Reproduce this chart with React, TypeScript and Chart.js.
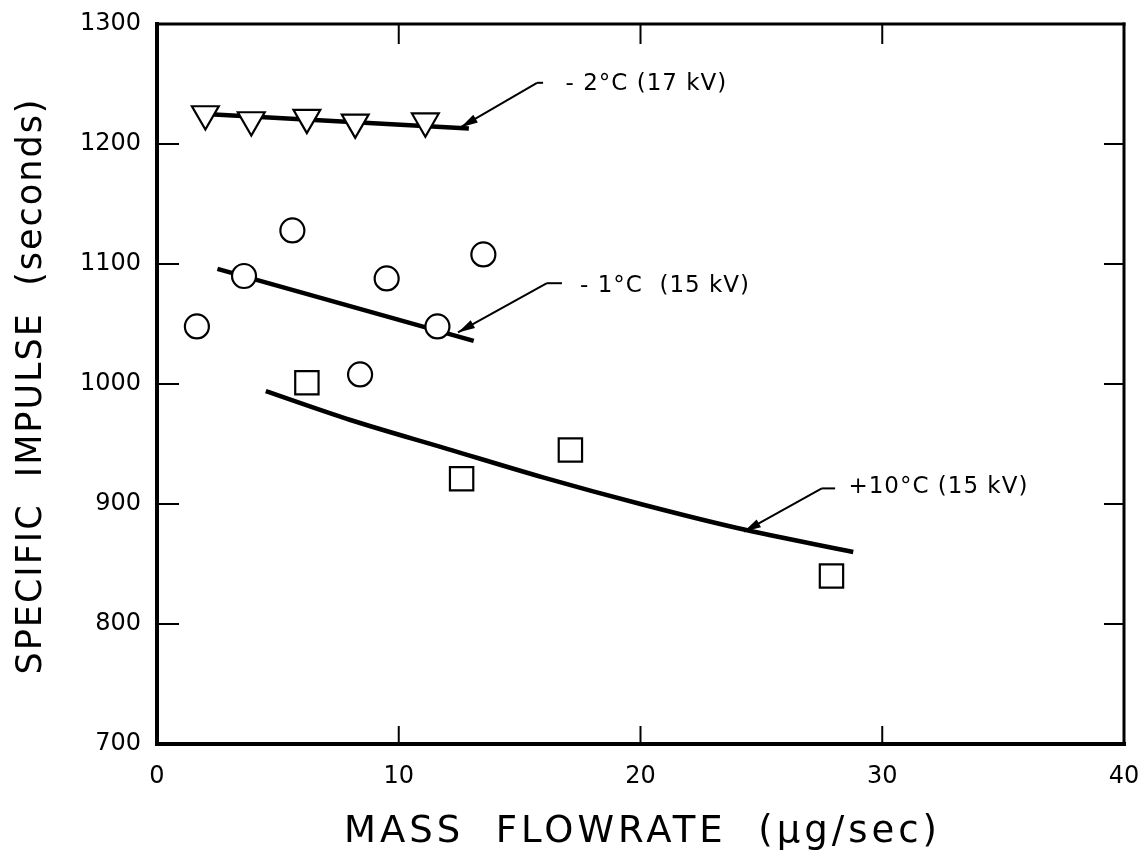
import { useEffect, useRef } from "react";
import { Chart, registerables } from "chart.js";

Chart.register(...registerables);

const FONT = "'DejaVu Sans', 'Noto Sans', sans-serif";

// axis ticks
const xTickValues = [0, 10, 20, 30, 40];
const xTickLabels = ["0", "10", "20", "30", "40"];
const yTickValues = [700, 800, 900, 1000, 1100, 1200, 1300];
const yTickLabels = ["700", "800", "900", "1000", "1100", "1200", "1300"];

// -2°C (17 kV) : triangles + fit
const triX = [2.0, 3.9, 6.2, 8.2, 11.1];
const triY = [1225, 1220, 1222, 1218, 1219];
const fitAX = [2.0, 12.9];
const fitAY = [1225, 1213];

// -1°C (15 kV) : circles + fit
const circX = [1.65, 3.6, 5.6, 8.4, 9.5, 11.6, 13.5];
const circY = [1048, 1090, 1128, 1008, 1088, 1048, 1108];
const fitBX = [2.5, 13.1];
const fitBY = [1096, 1036];

// +10°C (15 kV) : squares + fitted curve
const sqX = [6.2, 12.6, 17.1, 27.9];
const sqY = [1001, 921, 945, 840];
const fitCX = [4.5, 8, 12, 16, 20, 24, 28.8];
const fitCY = [994, 970, 946, 922, 900, 880, 860];

// annotation labels with leader arrows (data units)
const noteText = ["- 2°C (17 kV)", "- 1°C  (15 kV)", "+10°C (15 kV)"];
const noteX = [16.9, 17.5, 28.6];
const noteY = [1250, 1082, 914];
const arrowTailX = [15.97, 16.75, 28.05];
const arrowJointX = [15.72, 16.13, 27.5];
const arrowTailY = [1251, 1084, 913];
const arrowTipX = [12.57, 12.45, 24.28];
const arrowTipY = [1214, 1043, 877];

const xTitle = "MASS  FLOWRATE  (μg/sec)";
const yTitle = "SPECIFIC  IMPULSE  (seconds)";

const pts = (xs: number[], ys: number[]) => xs.map((x, i) => ({ x, y: ys[i] }));

const decorPlugin = {
  id: "decor",
  afterDraw(chart: any) {
    const { ctx, chartArea: a } = chart;
    const xs = chart.scales.x;
    const ys = chart.scales.y;
    const seg = (x1: number, y1: number, x2: number, y2: number) => {
      ctx.beginPath();
      ctx.moveTo(x1, y1);
      ctx.lineTo(x2, y2);
      ctx.stroke();
    };
    ctx.save();
    ctx.strokeStyle = "#000";
    ctx.fillStyle = "#000";
    ctx.lineCap = "square";
    // frame
    ctx.lineWidth = 4;
    seg(a.left, a.top, a.left, a.bottom);
    seg(a.left, a.bottom, a.right, a.bottom);
    ctx.lineWidth = 3;
    seg(a.left, a.top, a.right, a.top);
    seg(a.right, a.top, a.right, a.bottom);
    // inward ticks
    ctx.lineCap = "butt";
    ctx.lineWidth = 2;
    yTickValues.slice(1, -1).forEach((v) => {
      const py = ys.getPixelForValue(v);
      seg(a.left, py, a.left + 22, py);
      seg(a.right - 20, py, a.right, py);
    });
    xTickValues.slice(1, -1).forEach((v) => {
      const px = xs.getPixelForValue(v);
      seg(px, a.bottom, px, a.bottom - 18);
      seg(px, a.top, px, a.top + 20);
    });
    // leader arrows
    noteText.forEach((t, i) => {
      const tx = xs.getPixelForValue(arrowTailX[i]);
      const jx = xs.getPixelForValue(arrowJointX[i]);
      const ty = ys.getPixelForValue(arrowTailY[i]);
      const px = xs.getPixelForValue(arrowTipX[i]);
      const py = ys.getPixelForValue(arrowTipY[i]);
      ctx.lineWidth = 2;
      seg(tx, ty, jx, ty);
      seg(jx, ty, px, py);
      const ang = Math.atan2(py - ty, px - jx);
      const L = 17;
      const W = 4.5;
      const bx = px - Math.cos(ang) * L;
      const by = py - Math.sin(ang) * L;
      ctx.beginPath();
      ctx.moveTo(px, py);
      ctx.lineTo(bx + Math.sin(ang) * W, by - Math.cos(ang) * W);
      ctx.lineTo(bx - Math.sin(ang) * W, by + Math.cos(ang) * W);
      ctx.closePath();
      ctx.fill();
      ctx.font = `23px ${FONT}`;
      ctx.textAlign = "left";
      ctx.textBaseline = "middle";
      (ctx as any).letterSpacing = "1px";
      ctx.fillText(t, xs.getPixelForValue(noteX[i]), ys.getPixelForValue(noteY[i]));
    });
    // axis titles
    ctx.textAlign = "center";
    ctx.textBaseline = "middle";
    (ctx as any).letterSpacing = "4px";
    ctx.font = `37px ${FONT}`;
    ctx.fillText(xTitle, (a.left + a.right) / 2 + 2, 832);
    (ctx as any).letterSpacing = "2px";
    ctx.font = `35px ${FONT}`;
    ctx.save();
    ctx.translate(32, (a.top + a.bottom) / 2 + 2);
    ctx.rotate(-Math.PI / 2);
    ctx.fillText(yTitle, 0, 0);
    ctx.restore();
    ctx.restore();
  },
};

export default function App() {
  const ref = useRef<HTMLCanvasElement>(null);
  useEffect(() => {
    if (!ref.current) return;
    const marker = {
      showLine: false,
      pointBackgroundColor: "#fff",
      pointBorderColor: "#000",
      pointBorderWidth: 2.2,
      order: 0,
    };
    const fit = {
      showLine: true,
      borderColor: "#000",
      borderWidth: 4.5,
      pointRadius: 0,
      fill: false,
      order: 1,
    };
    const chart = new Chart(ref.current, {
      type: "scatter",
      data: {
        datasets: [
          { ...marker, label: "-2°C (17 kV)", data: pts(triX, triY), pointStyle: "triangle", rotation: 180, pointRadius: 15.5 } as any,
          { ...fit, label: "-2°C fit", data: pts(fitAX, fitAY) } as any,
          { ...marker, label: "-1°C (15 kV)", data: pts(circX, circY), pointStyle: "circle", pointRadius: 12 } as any,
          { ...fit, label: "-1°C fit", data: pts(fitBX, fitBY) } as any,
          { ...marker, label: "+10°C (15 kV)", data: pts(sqX, sqY), pointStyle: "rect", pointRadius: 16.5 } as any,
          { ...fit, label: "+10°C fit", data: pts(fitCX, fitCY), cubicInterpolationMode: "monotone" } as any,
        ],
      },
      options: {
        animation: false,
        responsive: false,
        layout: { padding: { top: 24, right: 21, left: 0, bottom: 0 } },
        plugins: { legend: { display: false }, tooltip: { enabled: false } },
        scales: {
          x: {
            type: "linear",
            min: 0,
            max: 40,
            afterFit: (s: any) => {
              s.height = 120;
              s.paddingLeft = 0;
              s.paddingRight = 0;
            },
            afterBuildTicks: (s: any) => { s.ticks = xTickValues.map((v) => ({ value: v })); },
            grid: { display: false, drawTicks: false },
            border: { display: false },
            ticks: {
              color: "#000",
              font: { family: FONT, size: 24 },
              padding: 18,
              maxRotation: 0,
              callback: (v: any) => xTickLabels[xTickValues.indexOf(Number(v))] ?? "",
            },
          },
          y: {
            type: "linear",
            min: 700,
            max: 1300,
            afterFit: (s: any) => {
              s.width = 157;
              s.paddingTop = 0;
              s.paddingBottom = 0;
            },
            afterBuildTicks: (s: any) => { s.ticks = yTickValues.map((v) => ({ value: v })); },
            grid: { display: false, drawTicks: false },
            border: { display: false },
            ticks: {
              color: "#000",
              font: { family: FONT, size: 24 },
              padding: 16,
              callback: (v: any) => yTickLabels[yTickValues.indexOf(Number(v))] ?? "",
            },
          },
        },
      },
      plugins: [decorPlugin],
    });
    return () => chart.destroy();
  }, []);
  return (
    <div style={{ position: "absolute", left: 0, top: 0, width: 1145, height: 864, background: "#fff" }}>
      <canvas ref={ref} width={1145} height={864} />
    </div>
  );
}
